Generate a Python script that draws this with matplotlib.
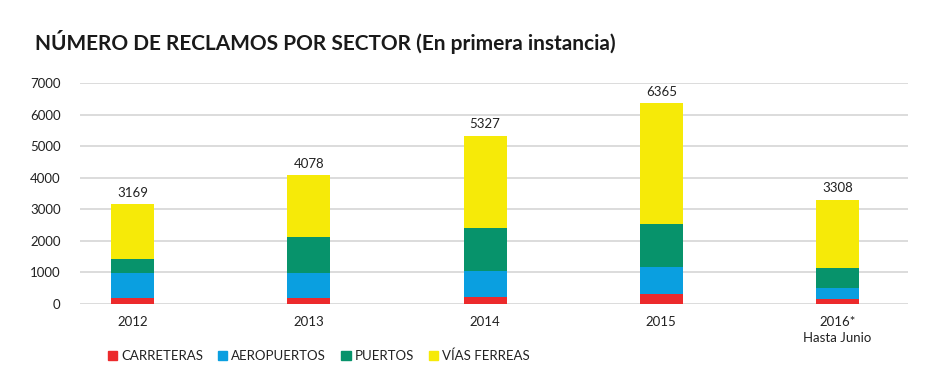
import matplotlib.pyplot as plt
import numpy as np
from matplotlib.patches import Patch

plt.rcParams['font.family'] = ['Lato', 'DejaVu Sans']

# data
years = ["2012", "2013", "2014", "2015", "2016*\nHasta Junio"]
totales = [3169, 4078, 5327, 6365, 3308]
carreteras = [180, 200, 231, 326, 158]
aeropuertos = [790, 772, 814, 846, 349]
puertos = [455, 1160, 1362, 1362, 633]
vias_ferreas = [1744, 1946, 2920, 3831, 2168]

sectores = ["CARRETERAS", "AEROPUERTOS", "PUERTOS", "VÍAS FERREAS"]
colores = ["#ec2a2c", "#0a9fe0", "#07936b", "#f6ea08"]

fig = plt.figure(figsize=(9.43, 3.81), dpi=100)
ax = fig.add_axes([80/943, 1-304/381, 828/943, 221/381])

x = np.arange(len(years))
ancho = 0.244
bottom = np.zeros(len(years))
for serie, col in zip([carreteras, aeropuertos, puertos, vias_ferreas], colores):
    ax.bar(x, serie, ancho, bottom=bottom, color=col, zorder=3)
    bottom += np.array(serie)

for i, t in enumerate(totales):
    ax.text(x[i], t + 170, str(t), ha='center', va='bottom', fontsize=9.5, color='#222222')

ax.set_xlim(-0.298, 4.40)
ax.set_ylim(0, 7000)
ax.set_yticks(range(0, 7001, 1000))
ax.set_xticks(x)
ax.set_xticklabels(years, fontsize=9.5, color='#222222', linespacing=1.35)
ax.tick_params(axis='y', labelsize=9.5, labelcolor='#222222', length=0, pad=14)
ax.tick_params(axis='x', length=0, pad=9)
ax.grid(axis='y', color='#d9d9d9', linewidth=1.3, zorder=0)
for s in ax.spines.values():
    s.set_visible(False)

fig.text(35/943, 1-42/381, "NÚMERO DE RECLAMOS POR SECTOR (En primera instancia)",
         fontsize=15, fontweight='bold', color='#1a1a1a', va='center', ha='left')

handles = [Patch(color=c, label=s) for s, c in zip(sectores, colores)]
fig.legend(handles=handles, loc='center left', bbox_to_anchor=(96/943, 1-356/381),
           ncol=4, frameon=False, fontsize=9.5, handlelength=0.7, handleheight=0.7,
           handletextpad=0.3, columnspacing=1.15, labelcolor='#222222')

plt.savefig("out.png", dpi=100)
